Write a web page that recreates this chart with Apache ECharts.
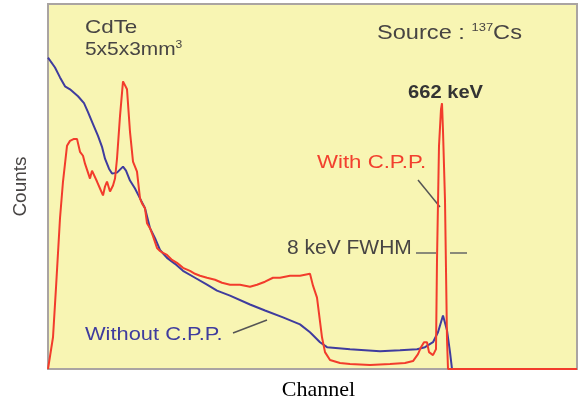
<!DOCTYPE html>
<html>
<head>
<meta charset="utf-8">
<script src="https://cdn.jsdelivr.net/npm/echarts@6/dist/echarts.min.js"></script>
<style>
html,body{margin:0;padding:0;background:#ffffff;}
#chart{width:579px;height:406px;}
</style>
</head>
<body>
<div id="chart"></div>
<script>
// Channel / counts (arbitrary units)
var withoutChannels = [0,2,7,12,17,22,30,36,40,45,50,54,57,61,64,69,72,75,78,82,87,92,97,102,107,112,119,127,135,147,159,169,182,202,217,235,252,262,272,279,302,332,352,369,377,385,390,395,399,402,404,422,529];
var withoutCounts   = [314,312,304,294,285,282,275,268,259,247,235,224,212,202,197,198,201,204,200,190,182,172,162,142,132,120,112,106,99,92,85,79,74,65,59,52,45,37,27,22,20,18,19,20,22,27,37,54,39,17,0,0,0];

var withChannels = [0,2,5,8,12,15,19,22,26,29,32,35,37,39,42,44,45,49,52,55,57,59,62,65,67,69,72,75,77,79,82,85,87,89,92,94,97,99,102,105,109,112,115,119,124,129,135,142,147,152,159,167,174,182,192,202,209,217,225,232,242,252,257,262,265,269,274,277,282,292,302,322,342,357,365,370,373,376,379,381,385,387,388,389,391,393,394,395,397,398,399,400,422,529];
var withCounts   = [0,1,32,82,152,189,225,230,232,232,219,215,207,205,192,200,199,189,182,175,184,189,179,185,192,212,255,290,288,282,239,209,204,199,172,167,162,147,142,134,122,119,117,115,110,107,102,99,96,94,92,90,87,85,85,83,85,88,92,92,94,94,95,96,84,72,32,17,9,6,5,4,5,6,8,15,22,27,27,17,14,14,20,110,225,262,268,240,170,100,30,0,0,0];

function zip(xs, ys){ return xs.map(function(x,i){ return [x, ys[i]]; }); }

var chart = echarts.init(document.getElementById('chart'), null, {renderer:'canvas'});
var txt = '#474443';
var fnt = '"Liberation Sans", Arial, sans-serif';
function label(x, y, sx, style){
  style.fontFamily = fnt; style.verticalAlign = 'top'; style.x = 0; style.y = 0;
  return {type:'text', x:x, y:y, scaleX:sx, style:style, z:10};
}
chart.setOption({
  animation:false,
  backgroundColor:'#ffffff',
  grid:{left:48, top:4, right:2, bottom:34, show:true, backgroundColor:'#f8f5b3', borderColor:'#aaa4a2', borderWidth:2},
  xAxis:{type:'value', min:0, max:529, axisLine:{show:false}, axisTick:{show:false}, axisLabel:{show:false}, splitLine:{show:false},
    name:'Channel', nameLocation:'middle', nameGap:10,
    nameTextStyle:{fontFamily:'"Liberation Serif", "Times New Roman", serif', fontSize:22, color:'#000', padding:[0,0,0,12]}},
  yAxis:{type:'value', min:0, max:368, axisLine:{show:false}, axisTick:{show:false}, axisLabel:{show:false}, splitLine:{show:false},
    name:'Counts', nameLocation:'middle', nameGap:18,
    nameTextStyle:{fontFamily:fnt, fontSize:19, color:txt}},
  series:[
    {type:'line', data:zip(withoutChannels, withoutCounts), showSymbol:false, lineStyle:{color:'#3f3c9e', width:2}, z:2},
    {type:'line', data:zip(withChannels, withCounts), showSymbol:false, lineStyle:{color:'#f23c2c', width:2}, z:3}
  ],
  graphic:[
    label(85, 18, 1.18, {text:'CdTe', fontSize:19, fill:txt}),
    label(85, 39, 1.1, {text:'5x5x3mm{s|3}', fontSize:19, fill:txt,
       rich:{s:{fontSize:11, fill:txt, fontFamily:fnt, padding:[0,0,10,0]}}}),
    label(377, 22, 1.18, {text:'Source : {s|137}Cs', fontSize:20, fill:txt,
       rich:{s:{fontSize:11, fill:txt, fontFamily:fnt, padding:[0,0,12,0]}}}),
    label(408, 83, 1.06, {text:'662 keV', fontSize:19, fill:'#333', fontWeight:'bold'}),
    label(317, 153, 1.17, {text:'With C.P.P.', fontSize:19, fill:'#f2402e'}),
    label(287, 238, 1.05, {text:'8 keV FWHM', fontSize:20, fill:txt}),
    label(85, 325, 1.15, {text:'Without C.P.P.', fontSize:19, fill:'#3f3c9e'}),
    {type:'line', shape:{x1:418, y1:180, x2:440, y2:207}, style:{stroke:'#555', lineWidth:1.5}},
    {type:'line', shape:{x1:416, y1:253, x2:436, y2:253}, style:{stroke:'#666', lineWidth:1.5}},
    {type:'line', shape:{x1:450, y1:253, x2:467, y2:253}, style:{stroke:'#666', lineWidth:1.5}},
    {type:'line', shape:{x1:233, y1:333, x2:267, y2:320}, style:{stroke:'#555', lineWidth:1.5}}
  ]
});
</script>
</body>
</html>
